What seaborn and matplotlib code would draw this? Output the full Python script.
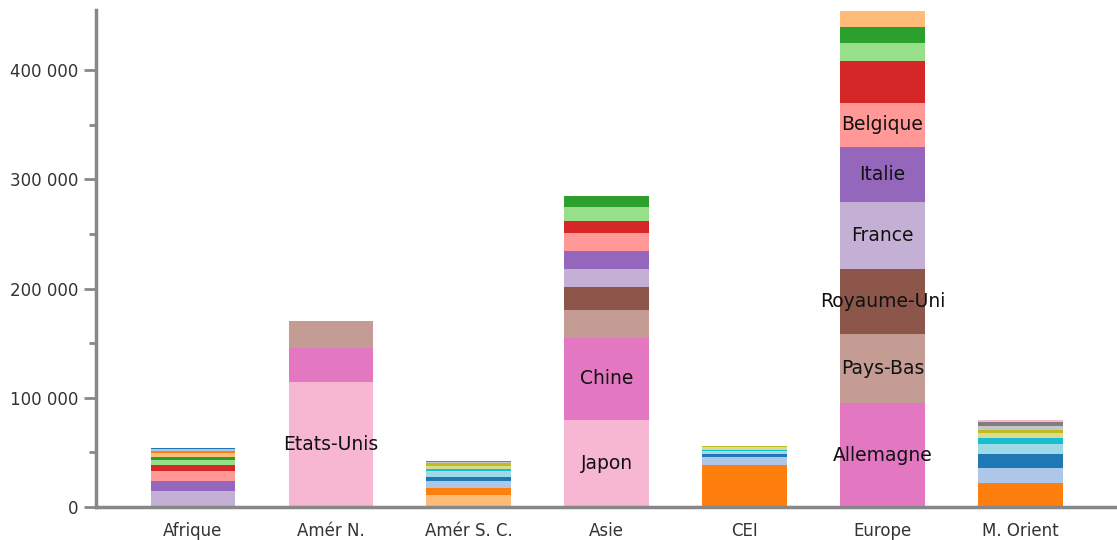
import matplotlib
matplotlib.use("Agg")
import matplotlib.pyplot as plt
from matplotlib.ticker import FuncFormatter, MultipleLocator, FixedLocator
import seaborn as sns

# Stacked values per region, bottom segment first
regions = ["Afrique", "Amér N.", "Amér S. C.", "Asie", "CEI", "Europe", "M. Orient"]

afrique = [14600, 9100, 9100, 5500, 5200, 2400, 3700, 1500, 1800, 1500]
amer_n = [114400, 31000, 25300]
amer_sc = [11000, 6100, 7000, 3700, 5200, 1500, 3000, 2400, 1000, 1500]
asie = [80000, 75000, 25000, 21400, 16700, 16400, 16200, 11500, 12200, 10600]
cei = [38300, 7600, 2400, 2700, 1500, 2200, 800]
europe = [95000, 63000, 60300, 61200, 50200, 40200, 38300, 16400, 14600, 14600]
m_orient = [21600, 13700, 13700, 9100, 5500, 4600, 2700, 3300, 3700, 1500]

values = [afrique, amer_n, amer_sc, asie, cei, europe, m_orient]

# Segment names shown inside the larger segments
labels = {
    "Amér N.": ["Etats-Unis"],
    "Asie": ["Japon", "Chine"],
    "Europe": ["Allemagne", "Pays-Bas", "Royaume-Uni", "France", "Italie", "Belgique"],
}

# Each bar walks backwards through the 20-colour palette from its own start
palette = sns.color_palette("tab20", 20)
start_color = [9, 13, 3, 13, 2, 12, 2]

sns.set_theme(style="white")
plt.rcParams["font.family"] = ["DejaVu Sans"]

fig = plt.figure(figsize=(11.17, 5.40), dpi=100)
ax = fig.add_axes([0.086, 0.061, 0.914, 0.920])

bar_width = 0.61
for i, (region, segs) in enumerate(zip(regions, values)):
    base = 0
    names = labels.get(region, [])
    for k, v in enumerate(segs):
        col = palette[(start_color[i] - k) % 20]
        sns.barplot(x=[region], y=[v], order=regions, color=col,
                    width=bar_width, bottom=base, errorbar=None,
                    saturation=1, linewidth=0, ax=ax)
        if k < len(names):
            ax.text(i, base + v / 2, names[k], ha="center", va="center",
                    fontsize=13.5, color="#111111")
        base += v

ymax = max(sum(s) for s in values)
ax.set_ylim(0, ymax * 1.002)
ax.set_xlim(-0.70, len(regions) - 0.30)

ax.yaxis.set_major_locator(MultipleLocator(100000))
ax.yaxis.set_minor_locator(FixedLocator([50000, 150000, 250000, 350000]))
ax.yaxis.set_major_formatter(FuncFormatter(lambda v, p: f"{int(v):,}".replace(",", " ")))

axis_grey = "#878787"
for side in ["top", "right"]:
    ax.spines[side].set_visible(False)
for side in ["left", "bottom"]:
    ax.spines[side].set_color(axis_grey)
    ax.spines[side].set_linewidth(2.5)

ax.tick_params(axis="y", which="major", length=9, width=2, color=axis_grey,
               labelsize=12, labelcolor="#333333", pad=4, left=True)
ax.tick_params(axis="y", which="minor", length=5, width=2, color=axis_grey, left=True)
ax.tick_params(axis="x", length=0, labelsize=12, labelcolor="#333333", pad=11)
ax.set_xlabel("")
ax.set_ylabel("")

fig.savefig("out.png", dpi=100)
